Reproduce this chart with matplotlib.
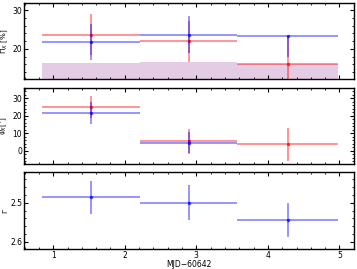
import numpy as np
import matplotlib
matplotlib.use("Agg")
import matplotlib.pyplot as plt
from matplotlib.ticker import AutoMinorLocator

# time bins (MJD - 60642)
bin_lo = [0.842, 2.213, 3.572]
bin_hi = [2.213, 3.572, 4.98]
bin_mid = [1.527, 2.893, 4.276]

# polarization degree [%]
pd_red = [23.6, 21.9, 16.0]
pd_red_err = [5.3, 5.3, 7.2]
pd_blue = [21.8, 23.6, 23.2]
pd_blue_err_lo = [4.65, 4.8, 5.3]
pd_blue_err_hi = [4.65, 4.8, 0.0]
mdp99 = [16.2, 16.6, 16.0]

# polarization angle [deg]
pa_red = [25.2, 5.3, 3.7]
pa_red_err = [6.3, 7.2, 9.6]
pa_blue = [21.5, 4.7]
pa_blue_err = [6.2, 6.2]

# photon index
gamma = [2.486, 2.50, 2.545]
gamma_err = [0.043, 0.045, 0.044]

plt.rcParams['font.size'] = 5.5
fig = plt.figure(figsize=(3.57, 2.69), dpi=100)
ax1 = fig.add_axes([0.068, 0.705, 0.924, 0.285])
ax2 = fig.add_axes([0.068, 0.389, 0.924, 0.285], sharex=ax1)
ax3 = fig.add_axes([0.068, 0.074, 0.924, 0.285], sharex=ax1)

lo = np.array(bin_lo)
hi = np.array(bin_hi)
mid = np.array(bin_mid)
xerr = [mid - lo, hi - mid]


def pts(ax, x, y, xe, ye, color):
    ax.errorbar(x, y, xerr=xe, yerr=ye, fmt='none', color=color,
                elinewidth=1.3, alpha=0.45, capsize=0)
    ax.plot(x, y, 'o', ms=2.5, color=color, alpha=0.7, mew=0)


# top: PD
for i in range(3):
    ax1.fill_between([lo[i], hi[i]], 0, mdp99[i], color='purple', alpha=0.2,
                     lw=0)
pts(ax1, mid, pd_red, xerr, pd_red_err, 'red')
pts(ax1, mid, pd_blue, xerr, [pd_blue_err_lo, pd_blue_err_hi], 'blue')
ax1.set_ylim(12.1, 31.9)
ax1.set_yticks([20, 30])
ax1.set_ylabel(r'$\Pi_X$ [%]', fontsize=5.2)

# middle: PA
pts(ax2, mid, pa_red, xerr, pa_red_err, 'red')
pts(ax2, mid[:2], pa_blue, [xerr[0][:2], xerr[1][:2]], pa_blue_err, 'blue')
ax2.set_ylim(-7.8, 36.1)
ax2.set_yticks([0, 10, 20, 30])
ax2.set_ylabel(r'$\psi_X$[$^{\circ}$]', fontsize=5.2)

# bottom: photon index
pts(ax3, mid, gamma, xerr, gamma_err, 'blue')
ax3.set_ylim(2.619, 2.422)
ax3.set_yticks([2.5, 2.6])
ax3.set_ylabel(r'$\Gamma$', fontsize=5.2)
ax3.set_xlabel('MJD\u221260642', labelpad=0)

ax1.set_xlim(0.596, 5.205)
ax1.set_xticks([1, 2, 3, 4, 5])
for ax in (ax1, ax2, ax3):
    ax.xaxis.set_minor_locator(AutoMinorLocator(5))
    ax.yaxis.set_minor_locator(AutoMinorLocator(5))
    ax.tick_params(which='both', direction='in', top=True, right=True,
                   labelsize=5.5, pad=1.5)
    ax.tick_params(which='major', length=3)
    ax.tick_params(which='minor', length=1.5)
    ax.yaxis.set_label_coords(-0.042, 0.5)
    for s in ax.spines.values():
        s.set_linewidth(1.0)
for ax in (ax1, ax2):
    ax.tick_params(labelbottom=False)

fig.savefig('out.png', dpi=100)
